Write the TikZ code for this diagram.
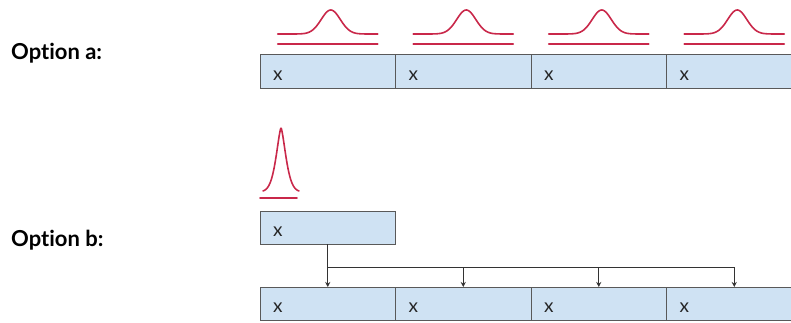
\documentclass[tikz,border=0pt]{standalone}
\usepackage{fontspec}
\setmainfont{Lato}[Ligatures=NoCommon]
\usepackage{xcolor}
\usepackage{tikz}
\usetikzlibrary{arrows.meta, positioning}

\definecolor{cellfill}{HTML}{CFE2F3}
\definecolor{cellline}{HTML}{595959}
\definecolor{celltext}{HTML}{262626}
\definecolor{peakred}{HTML}{C9284A}
\definecolor{arrowgray}{HTML}{333333}

\begin{document}
\begin{tikzpicture}[x=1pt, y=1pt,
  % Node styles
  cell/.style={draw=cellline, fill=cellfill, line width=1pt, outer sep=0pt,
               minimum width=135.5pt, minimum height=33pt, inner xsep=13pt,
               text width=109.5pt, align=left, text height=17pt, text depth=0pt,
               font=\fontsize{19}{19}\selectfont, text=celltext},
  optlabel/.style={anchor=west, inner sep=0pt, font=\fontsize{22}{22}\selectfont\bfseries},
  % Curve styles
  peak/.style={draw=peakred, line width=1.6pt, line cap=round},
  % Arrow styles
  arr/.style={-{Stealth[length=5pt, width=5pt]}, line width=1pt, draw=arrowgray},
]
  \useasboundingbox (0,0) rectangle (791,322);

  % ── Option a: one row of cells ──
  \node[optlabel] (opta) at (11,269) {Option a:};
  \node[cell] (a1) at (327.75,250.5) {x};
  \node[cell, right=0pt of a1] (a2) {x};
  \node[cell, right=0pt of a2] (a3) {x};
  \node[cell, right=0pt of a3] (a4) {x};

  % ── Option a: a wide peak over every cell ──
  \draw[peak] ([xshift=-50pt, yshift=11pt]a1.north) -- ++(100,0);
  \draw[peak, shift={([yshift=21pt]a1.north)}] plot[domain=-50:50, samples=80] (\x, {24*exp(-((\x-3)/13.5)^2)});
  \draw[peak] ([xshift=-50pt, yshift=11pt]a2.north) -- ++(100,0);
  \draw[peak, shift={([yshift=21pt]a2.north)}] plot[domain=-50:50, samples=80] (\x, {24*exp(-((\x-3)/13.5)^2)});
  \draw[peak] ([xshift=-50pt, yshift=11pt]a3.north) -- ++(100,0);
  \draw[peak, shift={([yshift=21pt]a3.north)}] plot[domain=-50:50, samples=80] (\x, {24*exp(-((\x-3)/13.5)^2)});
  \draw[peak] ([xshift=-50pt, yshift=11pt]a4.north) -- ++(100,0);
  \draw[peak, shift={([yshift=21pt]a4.north)}] plot[domain=-50:50, samples=80] (\x, {24*exp(-((\x-3)/13.5)^2)});

  % ── Option b: single cell with a sharp peak ──
  \node[optlabel] (optb) at (11,82) {Option b:};
  \node[cell] (single) at (327.75,94.5) {x};
  \draw[peak] ([yshift=13pt]single.north west) -- ++(37,0);
  \draw[peak, shift={([xshift=21pt, yshift=19pt]single.north west)}] plot[domain=-18:18, samples=80] (\x, {64*exp(-(abs(\x)/7)^1.5)});

  % ── Option b: row of cells below ──
  \node[cell] (b1) at (327.75,18.5) {x};
  \node[cell, right=0pt of b1] (b2) {x};
  \node[cell, right=0pt of b2] (b3) {x};
  \node[cell, right=0pt of b3] (b4) {x};

  % ── Arrows: single cell to the row ──
  \draw[arr] (single.south) -- (b1.north);
  \draw[arr] (single.south) -- ++(0,-23) -| (b2.north);
  \draw[arr] (single.south) -- ++(0,-23) -| (b3.north);
  \draw[arr] (single.south) -- ++(0,-23) -| (b4.north);

\end{tikzpicture}
\end{document}
